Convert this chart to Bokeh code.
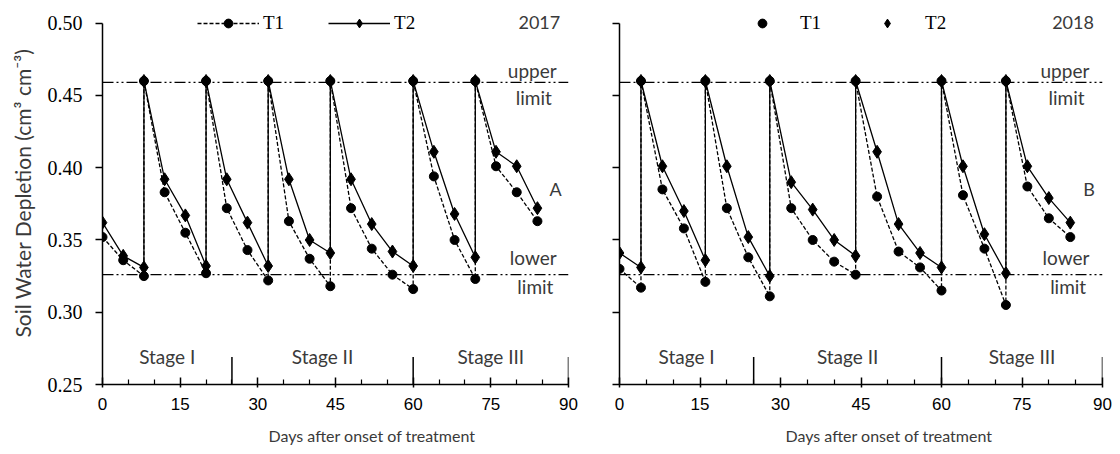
from bokeh.plotting import figure
from bokeh.models import (Range1d, FixedTicker, Span, Legend, LegendItem,
                          NumeralTickFormatter, Label, Title,
                          CustomJSTickFormatter)
from bokeh.layouts import row
from bokeh.embed import file_html
from bokeh.resources import INLINE

# ---------------- data ----------------
days_2017 = [0, 4, 8, 8, 12, 16, 20, 20, 24, 28, 32, 32, 36, 40, 44, 44,
             48, 52, 56, 60, 60, 64, 68, 72, 72, 76, 80, 84]
t1_2017 = [0.352, 0.336, 0.325, 0.460, 0.383, 0.355, 0.327, 0.460, 0.372, 0.343,
           0.322, 0.460, 0.363, 0.337, 0.318, 0.460, 0.372, 0.344, 0.326, 0.316,
           0.460, 0.394, 0.350, 0.323, 0.460, 0.401, 0.383, 0.363]
t2_2017 = [0.362, 0.339, 0.331, 0.460, 0.392, 0.367, 0.332, 0.460, 0.392, 0.362,
           0.332, 0.460, 0.392, 0.350, 0.341, 0.460, 0.392, 0.361, 0.342, 0.332,
           0.460, 0.411, 0.368, 0.338, 0.460, 0.411, 0.401, 0.372]

days_2018 = [0, 4, 4, 8, 12, 16, 16, 20, 24, 28, 28, 32, 36, 40, 44, 44,
             48, 52, 56, 60, 60, 64, 68, 72, 72, 76, 80, 84]
t1_2018 = [0.330, 0.317, 0.460, 0.385, 0.358, 0.321, 0.460, 0.372, 0.338, 0.311,
           0.460, 0.372, 0.350, 0.335, 0.326, 0.460, 0.380, 0.342, 0.331, 0.315,
           0.460, 0.381, 0.344, 0.305, 0.460, 0.387, 0.365, 0.352]
t2_2018 = [0.341, 0.331, 0.460, 0.401, 0.370, 0.336, 0.460, 0.401, 0.352, 0.325,
           0.460, 0.390, 0.371, 0.350, 0.339, 0.460, 0.411, 0.361, 0.341, 0.331,
           0.460, 0.401, 0.354, 0.327, 0.460, 0.401, 0.379, 0.362]

upper_limit = 0.459
lower_limit = 0.326
x_ticks = [0, 15, 30, 45, 60, 75, 90]
y_ticks = [0.25, 0.30, 0.35, 0.40, 0.45, 0.50]
stage_names = ["Stage I", "Stage II", "Stage III"]
stage_bounds = [0, 25, 60, 90]
series_names = ["T1", "T2"]
years = ["2017", "2018"]
panel_tags = ["A", "B"]
x_label = "Days after onset of treatment"
y_label = "Soil Water Depletion (cm\u00b3 cm\u207b\u00b3)"

SANS = "Lato"
SERIF = "Liberation Serif"
DARK = "#3a3a3a"
LIMIT_DASH = "11 3 2 3 2 3"


def make_panel(days, t1, t2, year, tag, first):
    p = figure(frame_width=466 if first else 483, frame_height=383,
               min_border_left=102 if first else 31,
               min_border_right=20 if first else 10,
               min_border_top=1, min_border_bottom=69,
               x_range=Range1d(0, 90), y_range=Range1d(0.25, 0.515),
               output_backend="svg", toolbar_location=None)
    p.outline_line_color = None
    p.xgrid.visible = False
    p.ygrid.visible = False

    # limits
    for lim in (upper_limit, lower_limit):
        p.add_layout(Span(location=lim, dimension="width", line_color="black",
                          line_width=1.2, line_dash=LIMIT_DASH))

    # stage separators
    p.segment(x0=stage_bounds[1:], y0=[0.25] * 3, x1=stage_bounds[1:],
              y1=[0.269] * 3, line_color="black", line_width=1.5)
    mids = [(a + b) / 2 for a, b in zip(stage_bounds[:-1], stage_bounds[1:])]
    for name, m in zip(stage_names, mids):
        p.add_layout(Label(x=m, y=0.2695, text=name, text_align="center",
                           text_baseline="middle", text_font=SANS,
                           text_font_size="19px", text_color=DARK))

    # series
    l1 = p.line(days, t1, line_color="black", line_width=1.3, line_dash="4 2")
    l2 = p.line(days, t2, line_color="black", line_width=1.3)
    s1 = p.scatter(days, t1, marker="circle", size=9, fill_color="black",
                   line_color="black")
    s2 = p.scatter(days, t2, marker="diamond", size=13, fill_color="black",
                   line_color="black")

    if first:
        items = [LegendItem(label=series_names[0], renderers=[l1, s1]),
                 LegendItem(label=series_names[1], renderers=[l2, s2])]
        legend = Legend(items=items, orientation="horizontal",
                        location=(95, 350), glyph_width=62, glyph_height=22,
                        label_height=22, label_standoff=4, spacing=44)
    else:
        items = [LegendItem(label=series_names[0], renderers=[s1]),
                 LegendItem(label=series_names[1], renderers=[s2])]
        legend = Legend(items=items, orientation="horizontal",
                        location=(123, 350), glyph_width=40, glyph_height=22,
                        label_height=22, label_standoff=18, spacing=46)
    legend.padding = 0
    legend.margin = 0
    legend.border_line_color = None
    legend.background_fill_alpha = 0
    legend.label_text_font = SERIF
    legend.label_text_font_size = "19px"
    legend.label_text_color = "black"
    p.add_layout(legend)

    # annotations
    ann = [("upper", 83.0, 0.467), ("limit", 83.3, 0.4485),
           ("lower", 83.2, 0.338), ("limit", 83.6, 0.318)]
    for txt, x, y in ann:
        p.add_layout(Label(x=x, y=y, text=txt, text_align="center",
                           text_baseline="middle", text_font=SANS,
                           text_font_size="19px", text_color=DARK))
    p.add_layout(Label(x=87.5, y=0.385, text=tag, text_align="center",
                       text_baseline="middle", text_font=SANS,
                       text_font_size="18px", text_color=DARK))
    p.add_layout(Label(x=88.4, y=0.5005, text=year, text_align="right",
                       text_baseline="middle", text_font=SANS,
                       text_font_size="18px", text_color=DARK))

    # x axis
    xa = p.xaxis[0]
    xa.ticker = FixedTicker(ticks=x_ticks,
                            minor_ticks=[d for d in range(0, 91, 5) if d % 15])
    xa.axis_line_width = 1.5
    xa.major_tick_line_width = 1.5
    xa.minor_tick_line_width = 1.2
    xa.major_tick_in = 7
    xa.major_tick_out = 3
    xa.minor_tick_in = 5
    xa.minor_tick_out = 0
    xa.major_label_standoff = 10
    xa.major_label_text_font = "Liberation Sans"
    xa.major_label_text_font_size = "17px"
    xa.major_label_text_color = "black"

    p.add_layout(Title(text=x_label, align="left", offset=166,
                       text_font=SANS, text_font_style="normal",
                       text_font_size="16px", text_color=DARK,
                       standoff=23), "below")

    # y axis
    ya = p.yaxis[0]
    ya.ticker = FixedTicker(ticks=y_ticks)
    ya.bounds = (0.25, 0.50)
    ya.axis_line_width = 1.5
    ya.major_tick_line_width = 1.5
    ya.major_tick_in = 0
    ya.major_tick_out = 7
    ya.minor_tick_line_color = None
    if first:
        ya.formatter = NumeralTickFormatter(format="0.00")
        ya.major_label_standoff = 13
        ya.major_label_text_font = SERIF
        ya.major_label_text_font_size = "20px"
        ya.major_label_text_color = "black"
        ya.axis_label = y_label
        ya.axis_label_text_font = SANS
        ya.axis_label_text_font_style = "normal"
        ya.axis_label_text_font_size = "21px"
        ya.axis_label_text_color = DARK
        ya.axis_label_standoff = 10
    else:
        ya.formatter = CustomJSTickFormatter(code="return ''")
    return p


p1 = make_panel(days_2017, t1_2017, t2_2017, years[0], panel_tags[0], True)
p2 = make_panel(days_2018, t1_2018, t2_2018, years[1], panel_tags[1], False)

layout = row(p1, p2)
open("out.html", "w").write(file_html(layout, INLINE))
